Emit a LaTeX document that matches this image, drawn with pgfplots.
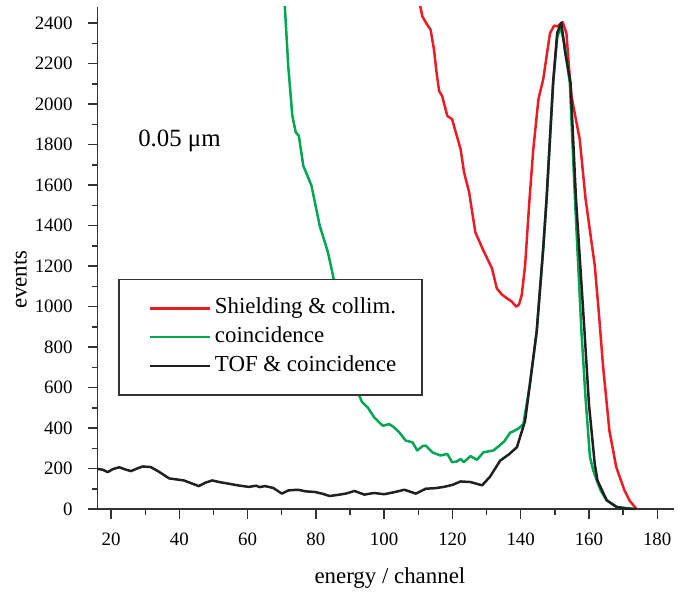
\documentclass[border=0pt]{standalone}
\usepackage{fontspec}
\setmainfont{Liberation Serif}
\usepackage{pgfplots}
\pgfplotsset{compat=1.18}

\definecolor{sred}{RGB}{237,28,36}
\definecolor{sgreen}{RGB}{0,166,81}
\definecolor{sblack}{RGB}{35,31,32}

\begin{document}
\begin{tikzpicture}
\begin{axis}[
    scale only axis,
    width=290pt, height=252.5pt,
    xmin=16, xmax=185, ymin=0, ymax=2480,
    axis lines=left,
    axis line style={-, line width=0.75pt, black!80},
    xtick={20,40,...,180},
    ytick={0,200,...,2400},
    minor x tick num=1,
    minor y tick num=1,
    tick align=outside,
    major tick length=5pt,
    minor tick length=2.8pt,
    tick style={line width=0.7pt, black!80},
    /pgf/number format/assume math mode=true,
    /pgf/number format/set thousands separator={},
    ticklabel style={font=\fontsize{9.5}{11}\selectfont},
    yticklabel style={xshift=-4pt},
    xticklabel style={yshift=-3.5pt},
    xlabel={energy / channel},
    ylabel={events},
    label style={font=\fontsize{11.5}{13}\selectfont},
    xlabel style={at={(rel axis cs:0.507,-0.137)}, anchor=center},
    ylabel style={at={(rel axis cs:-0.134,0.457)}, anchor=center},
    legend style={at={(rel axis cs:0.036,0.459)}, anchor=north west,
        draw=black!80, line width=0.75pt, fill=white,
        inner xsep=11pt, inner ysep=7.25pt,
        font=\fontsize{11.5}{13}\selectfont,
        nodes={inner xsep=2pt, inner ysep=2pt, text height=8pt, text depth=2.5pt}},
    legend cell align=left,
    legend image code/.code={\path (0pt,0pt); \draw[#1, line width=1.25pt] (4pt,0pt) -- (34pt,0pt);},
    every axis plot/.append style={line width=1.25pt, line join=round},
]
\addplot[sred] coordinates {
(108.5,2700) (110.2,2515) (111.2,2433) (112.5,2395) (113.6,2368) (114.6,2269)
(115.4,2150) (116.1,2065) (117,2040) (118.5,1942) (119.9,1926) (121,1860)
(122.4,1778) (123.4,1664) (124.9,1565) (126.7,1368) (129,1280) (131.6,1189)
(133,1090) (134.5,1060) (136,1041) (137.4,1025) (138.7,1000) (139.5,1010)
(140.3,1057) (141.3,1204) (142.6,1534) (143.7,1778) (145.2,2024) (146.6,2123)
(147.6,2237) (148.6,2351) (149.8,2388) (150.8,2384) (151.5,2395) (152.3,2405)
(153.4,2351) (154.3,2150) (154.9,2040) (156,1940) (157.3,1827) (159,1534)
(160.5,1350) (161.7,1204) (163,950) (164.1,713) (166,387) (168,208)
(170.4,93) (172,40) (174,0)
};
\addplot[sgreen] coordinates {
(70.5,2600) (71.9,2186) (73.1,1942) (74.1,1861) (75,1844) (76.3,1696)
(77.5,1647) (78.7,1598) (81.1,1401) (83.5,1270) (85,1155) (86.5,1000)
(88.5,820) (90.5,680) (92.3,576) (93.5,530) (95.2,502) (97.1,453)
(99.6,412) (101.5,420) (102.9,404) (104.4,380) (106.3,339) (108.3,330)
(109.7,290) (111.3,312) (112.2,314) (114.1,281) (116.5,265) (118.5,273)
(119.9,232) (121.4,236) (122.4,248) (123.3,232) (125.3,262) (127.2,244)
(129.1,281) (132,290) (133.5,310) (135.2,335) (136.9,378) (137.9,385)
(139.5,400) (140.8,420) (142.7,617) (144.7,879) (146.6,1286) (147.6,1534)
(149.5,2105) (150.7,2330) (151.7,2381) (152.8,2300) (154.4,2105) (155.9,1534)
(157.8,878) (159,550) (160.3,257) (161.3,190) (162.3,142) (163.5,90)
(165.2,44) (168.1,11) (171,5) (174,0)
};
\addplot[sblack] coordinates {
(16,199) (17.5,195) (19,183) (20.5,198) (22.4,207) (24,197) (25.8,188)
(27.5,200) (29.2,211) (31.6,208) (34,185) (37,152) (41.3,142) (43.5,128)
(45.7,114) (47.5,130) (49.6,142) (52,133) (54.4,126) (57,118) (60.3,110)
(62.5,116) (63.5,109) (65.1,114) (67.5,105) (70,77) (72,93) (74.8,96)
(77,88) (79.7,85) (82,76) (84,65) (87,72) (89,78) (91.3,90) (94.2,72)
(97,80) (100,74) (103,84) (105.9,96) (109.3,77) (112.2,101) (115,104)
(117.5,110) (120,120) (122.4,137) (125.3,134) (128.7,118) (131,160)
(134,240) (136.5,270) (138.9,306) (141.3,437) (142.7,617) (144.7,879)
(146.6,1286) (147.6,1534) (149.5,2105) (150.7,2352) (151.9,2403) (153,2260)
(154.6,2105) (156.2,1534) (158.7,878) (160,520) (161.7,224) (162.5,142)
(165.2,44) (168.1,11) (171,3) (174,0)
};
\legend{Shielding \& collim., coincidence, TOF \& coincidence}
\node[anchor=base west, font=\fontsize{12.5}{14}\selectfont] at (axis cs:25.9,1793) {0.05 μm};
\coordinate (bl) at (rel axis cs:-0.169,-0.1564);
\coordinate (tr) at (rel axis cs:1,1.0139);
\end{axis}
\path (bl) rectangle (tr);
\end{tikzpicture}
\end{document}
